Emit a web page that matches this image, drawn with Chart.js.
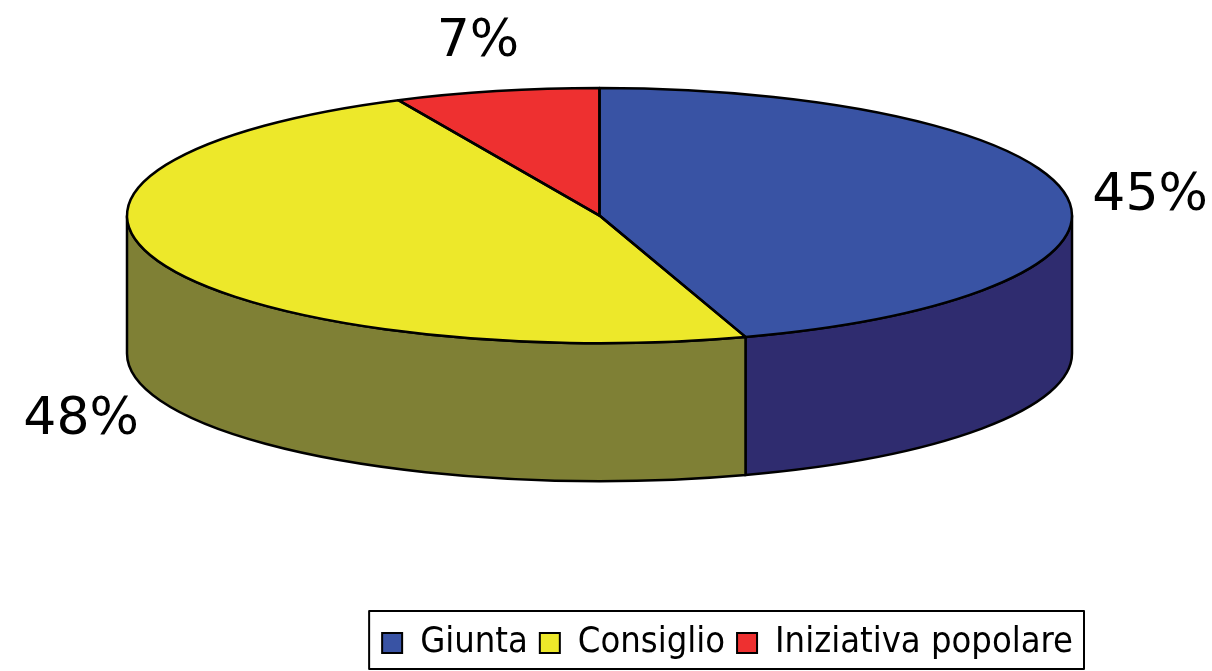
<!DOCTYPE html>
<html lang="it">
<head>
    <meta charset="UTF-8">
    <title>Iniziativa legislativa</title>
    <script src="https://cdn.jsdelivr.net/npm/chart.js"></script>
    <style>
        body { margin: 0; background: #fff; }
        #wrap { width: 1212px; height: 671px; }
    </style>
</head>
<body>
<div id="wrap"><canvas id="pieChart"></canvas></div>
<script>
    // dati
    const categories = ['Giunta', 'Consiglio', 'Iniziativa popolare'];
    const shares = [45, 48, 7];
    const topColors = ['#3953A4', '#EDE82A', '#EE3030'];
    const sideColors = ['#2F2C6F', '#7F8035', '#A02020'];

    // effetto 3D: schiacciamento e spessore
    const TILT = 0.27;
    const DEPTH = 138;
    const LEGEND_SHIFT = 13;

    function geom(chart) {
        const a = chart.chartArea;
        const rx = (a.right - a.left) / 2;
        const ry = rx * TILT;
        return { cx: (a.left + a.right) / 2, cy: a.top + ry, rx: rx, ry: ry };
    }

    const pie3d = {
        id: 'pie3d',
        afterLayout(chart) {
            // sposta la legenda verso destra come nell'originale
            chart.legend.left += LEGEND_SHIFT;
            chart.legend.right += LEGEND_SHIFT;
        },
        beforeDatasetsDraw(chart) {
            const ctx = chart.ctx;
            const g = geom(chart);
            const arcs = chart.getDatasetMeta(0).data;
            // pareti laterali (solo la parte frontale)
            arcs.forEach((arc, i) => {
                for (const k of [0, 2 * Math.PI]) {
                    const a0 = Math.max(arc.startAngle, k);
                    const a1 = Math.min(arc.endAngle, k + Math.PI);
                    if (a1 <= a0) continue;
                    ctx.beginPath();
                    ctx.ellipse(g.cx, g.cy, g.rx, g.ry, 0, a0, a1);
                    ctx.lineTo(g.cx + g.rx * Math.cos(a1), g.cy + DEPTH + g.ry * Math.sin(a1));
                    ctx.ellipse(g.cx, g.cy + DEPTH, g.rx, g.ry, 0, a1, a0, true);
                    ctx.closePath();
                    ctx.fillStyle = sideColors[i];
                    ctx.fill();
                    ctx.lineWidth = 2.5;
                    ctx.strokeStyle = '#000';
                    ctx.stroke();
                }
            });
            // schiaccia il disco superiore
            const arc = arcs[0];
            ctx.save();
            ctx.translate(g.cx, g.cy);
            ctx.scale(g.rx / arc.outerRadius, g.ry / arc.outerRadius);
            ctx.translate(-arc.x, -arc.y);
        },
        afterDatasetsDraw(chart) {
            const ctx = chart.ctx;
            ctx.restore();
            const g = geom(chart);
            const arcs = chart.getDatasetMeta(0).data;
            // contorni delle fette
            arcs.forEach(arc => {
                ctx.save();
                ctx.translate(g.cx, g.cy);
                ctx.scale(g.rx / arc.outerRadius, g.ry / arc.outerRadius);
                ctx.translate(-arc.x, -arc.y);
                ctx.beginPath();
                ctx.moveTo(arc.x, arc.y);
                ctx.arc(arc.x, arc.y, arc.outerRadius, arc.startAngle, arc.endAngle);
                ctx.closePath();
                ctx.restore();
                ctx.lineWidth = 2.5;
                ctx.strokeStyle = '#000';
                ctx.lineJoin = 'round';
                ctx.stroke();
            });
            // etichette percentuali
            const total = shares.reduce((s, v) => s + v, 0);
            ctx.save();
            ctx.font = '52px "DejaVu Sans", Verdana, sans-serif';
            ctx.fillStyle = '#000';
            ctx.textAlign = 'center';
            ctx.textBaseline = 'middle';
            arcs.forEach((arc, i) => {
                const mid = (arc.startAngle + arc.endAngle) / 2;
                const s = Math.sin(mid);
                const x = g.cx + Math.cos(mid) * (g.rx + 85);
                const y = g.cy + s * (g.ry + 60) + 10 + (s > 0.2 ? DEPTH - 12 : 0);
                ctx.fillText(Math.round(shares[i] / total * 100) + '%', x, y);
            });
            ctx.restore();
        },
        afterDraw(chart) {
            // cornice della legenda
            const lg = chart.legend;
            const boxes = lg.legendHitBoxes;
            if (!boxes || !boxes.length) return;
            const first = boxes[0], last = boxes[boxes.length - 1];
            const ctx = chart.ctx;
            ctx.save();
            ctx.lineWidth = 2;
            ctx.strokeStyle = '#000';
            ctx.strokeRect(first.left - 13, lg.top - 2, last.left + last.width + 24 - first.left, lg.bottom - lg.top);
            ctx.restore();
        }
    };

    const ctx = document.getElementById('pieChart').getContext('2d');
    const chart = new Chart(ctx, {
        type: 'pie',
        data: {
            labels: categories,
            datasets: [{
                data: shares,
                backgroundColor: topColors,
                borderWidth: 0
            }]
        },
        options: {
            responsive: true,
            maintainAspectRatio: false,
            animation: false,
            layout: { padding: { left: 127, right: 140, top: 88, bottom: 0 } },
            plugins: {
                tooltip: { enabled: false },
                legend: {
                    position: 'bottom',
                    align: 'end',
                    labels: {
                        color: '#000',
                        font: { family: '"DejaVu Sans Condensed", "Liberation Sans Narrow", "DejaVu Sans", sans-serif', size: 36 },
                        boxWidth: 20,
                        boxHeight: 20,
                        padding: 12,
                        generateLabels: () => categories.map((t, i) => ({
                            text: t,
                            fillStyle: topColors[i],
                            strokeStyle: '#000',
                            lineWidth: 2,
                            hidden: false,
                            index: i
                        }))
                    }
                }
            }
        },
        plugins: [pie3d]
    });
</script>
</body>
</html>
